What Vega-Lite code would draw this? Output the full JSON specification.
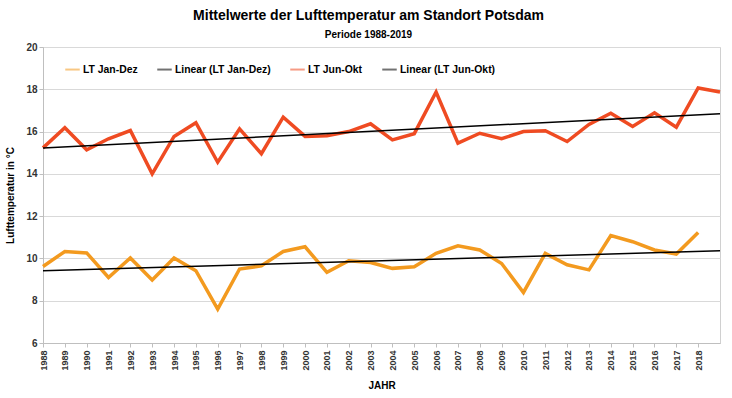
{
  "$schema": "https://vega.github.io/schema/vega-lite/v6.json",
  "width": 677,
  "height": 296,
  "autosize": {"type": "none"},
  "padding": {"left": 43, "top": 47, "right": 12, "bottom": 55},
  "background": "white",
  "title": {
    "text": "Mittelwerte der Lufttemperatur am Standort Potsdam",
    "subtitle": "Periode 1988-2019",
    "anchor": "middle",
    "dx": -13,
    "font": "Liberation Sans",
    "fontSize": 14,
    "fontWeight": "bold",
    "color": "#000000",
    "subtitleFont": "Liberation Sans",
    "subtitleFontSize": 10,
    "subtitleFontWeight": "bold",
    "subtitleColor": "#000000",
    "subtitlePadding": 7,
    "offset": 2
  },
  "config": {
    "view": {"stroke": "#d0d0d0", "strokeWidth": 1},
    "font": "Liberation Sans",
    "axis": {
      "labelFont": "Liberation Sans",
      "titleFont": "Liberation Sans",
      "labelFontWeight": "bold",
      "titleFontWeight": "bold",
      "labelColor": "#333333",
      "titleColor": "#000000",
      "domainColor": "#bfbfbf",
      "tickColor": "#bfbfbf",
      "gridColor": "#d9d9d9"
    }
  },
  "data": {
    "values": [
      {"Jahr": 1988, "Reihe": "LT Jan-Dez", "T": 9.62},
      {"Jahr": 1989, "Reihe": "LT Jan-Dez", "T": 10.33},
      {"Jahr": 1990, "Reihe": "LT Jan-Dez", "T": 10.26},
      {"Jahr": 1991, "Reihe": "LT Jan-Dez", "T": 9.10},
      {"Jahr": 1992, "Reihe": "LT Jan-Dez", "T": 10.02},
      {"Jahr": 1993, "Reihe": "LT Jan-Dez", "T": 8.98},
      {"Jahr": 1994, "Reihe": "LT Jan-Dez", "T": 10.02},
      {"Jahr": 1995, "Reihe": "LT Jan-Dez", "T": 9.42},
      {"Jahr": 1996, "Reihe": "LT Jan-Dez", "T": 7.60},
      {"Jahr": 1997, "Reihe": "LT Jan-Dez", "T": 9.50},
      {"Jahr": 1998, "Reihe": "LT Jan-Dez", "T": 9.65},
      {"Jahr": 1999, "Reihe": "LT Jan-Dez", "T": 10.33},
      {"Jahr": 2000, "Reihe": "LT Jan-Dez", "T": 10.55},
      {"Jahr": 2001, "Reihe": "LT Jan-Dez", "T": 9.34},
      {"Jahr": 2002, "Reihe": "LT Jan-Dez", "T": 9.89},
      {"Jahr": 2003, "Reihe": "LT Jan-Dez", "T": 9.81},
      {"Jahr": 2004, "Reihe": "LT Jan-Dez", "T": 9.53},
      {"Jahr": 2005, "Reihe": "LT Jan-Dez", "T": 9.61},
      {"Jahr": 2006, "Reihe": "LT Jan-Dez", "T": 10.24},
      {"Jahr": 2007, "Reihe": "LT Jan-Dez", "T": 10.60},
      {"Jahr": 2008, "Reihe": "LT Jan-Dez", "T": 10.40},
      {"Jahr": 2009, "Reihe": "LT Jan-Dez", "T": 9.76},
      {"Jahr": 2010, "Reihe": "LT Jan-Dez", "T": 8.39},
      {"Jahr": 2011, "Reihe": "LT Jan-Dez", "T": 10.24},
      {"Jahr": 2012, "Reihe": "LT Jan-Dez", "T": 9.70},
      {"Jahr": 2013, "Reihe": "LT Jan-Dez", "T": 9.46},
      {"Jahr": 2014, "Reihe": "LT Jan-Dez", "T": 11.08},
      {"Jahr": 2015, "Reihe": "LT Jan-Dez", "T": 10.79},
      {"Jahr": 2016, "Reihe": "LT Jan-Dez", "T": 10.40},
      {"Jahr": 2017, "Reihe": "LT Jan-Dez", "T": 10.21},
      {"Jahr": 2018, "Reihe": "LT Jan-Dez", "T": 11.23},
      {"Jahr": 1988, "Reihe": "LT Jun-Okt", "T": 15.23},
      {"Jahr": 1989, "Reihe": "LT Jun-Okt", "T": 16.18},
      {"Jahr": 1990, "Reihe": "LT Jun-Okt", "T": 15.14},
      {"Jahr": 1991, "Reihe": "LT Jun-Okt", "T": 15.66},
      {"Jahr": 1992, "Reihe": "LT Jun-Okt", "T": 16.05},
      {"Jahr": 1993, "Reihe": "LT Jun-Okt", "T": 14.00},
      {"Jahr": 1994, "Reihe": "LT Jun-Okt", "T": 15.77},
      {"Jahr": 1995, "Reihe": "LT Jun-Okt", "T": 16.42},
      {"Jahr": 1996, "Reihe": "LT Jun-Okt", "T": 14.55},
      {"Jahr": 1997, "Reihe": "LT Jun-Okt", "T": 16.13},
      {"Jahr": 1998, "Reihe": "LT Jun-Okt", "T": 14.95},
      {"Jahr": 1999, "Reihe": "LT Jun-Okt", "T": 16.68},
      {"Jahr": 2000, "Reihe": "LT Jun-Okt", "T": 15.77},
      {"Jahr": 2001, "Reihe": "LT Jun-Okt", "T": 15.80},
      {"Jahr": 2002, "Reihe": "LT Jun-Okt", "T": 16.00},
      {"Jahr": 2003, "Reihe": "LT Jun-Okt", "T": 16.37},
      {"Jahr": 2004, "Reihe": "LT Jun-Okt", "T": 15.61},
      {"Jahr": 2005, "Reihe": "LT Jun-Okt", "T": 15.90},
      {"Jahr": 2006, "Reihe": "LT Jun-Okt", "T": 17.87},
      {"Jahr": 2007, "Reihe": "LT Jun-Okt", "T": 15.45},
      {"Jahr": 2008, "Reihe": "LT Jun-Okt", "T": 15.92},
      {"Jahr": 2009, "Reihe": "LT Jun-Okt", "T": 15.66},
      {"Jahr": 2010, "Reihe": "LT Jun-Okt", "T": 16.00},
      {"Jahr": 2011, "Reihe": "LT Jun-Okt", "T": 16.04},
      {"Jahr": 2012, "Reihe": "LT Jun-Okt", "T": 15.53},
      {"Jahr": 2013, "Reihe": "LT Jun-Okt", "T": 16.34},
      {"Jahr": 2014, "Reihe": "LT Jun-Okt", "T": 16.87},
      {"Jahr": 2015, "Reihe": "LT Jun-Okt", "T": 16.24},
      {"Jahr": 2016, "Reihe": "LT Jun-Okt", "T": 16.89},
      {"Jahr": 2017, "Reihe": "LT Jun-Okt", "T": 16.21},
      {"Jahr": 2018, "Reihe": "LT Jun-Okt", "T": 18.06},
      {"Jahr": 2019, "Reihe": "LT Jun-Okt", "T": 17.87}
    ]
  },
  "encoding": {
    "x": {
      "field": "Jahr",
      "type": "quantitative",
      "scale": {"domain": [1988, 2019], "nice": false, "zero": false},
      "axis": {
        "title": "JAHR",
        "titleFontSize": 10,
        "titlePadding": 10,
        "values": [1988,1989,1990,1991,1992,1993,1994,1995,1996,1997,1998,1999,2000,2001,2002,2003,2004,2005,2006,2007,2008,2009,2010,2011,2012,2013,2014,2015,2016,2017,2018],
        "format": "d",
        "labelAngle": -90,
        "labelFontSize": 9,
        "labelPadding": 3,
        "tickSize": 4,
        "grid": false,
        "labelOverlap": false,
        "labelBound": false,
        "labelFlush": false
      }
    },
    "y": {
      "field": "T",
      "type": "quantitative",
      "scale": {"domain": [6, 20], "nice": false, "zero": false},
      "axis": {
        "title": "Lufttemperatur in °C",
        "titleFontSize": 10,
        "titlePadding": 10,
        "values": [6, 8, 10, 12, 14, 16, 18, 20],
        "labelFontSize": 10,
        "tickSize": 4,
        "grid": true
      }
    }
  },
  "layer": [
    {
      "mark": {"type": "line", "strokeWidth": 3.5, "strokeJoin": "miter"},
      "encoding": {
        "color": {
          "field": "Reihe",
          "type": "nominal",
          "scale": {
            "domain": ["LT Jan-Dez", "Linear (LT Jan-Dez)", "LT Jun-Okt", "Linear (LT Jun-Okt)"],
            "range": ["#F39A1F", "#000000", "#EF4B22", "#000000"]
          },
          "legend": {
            "title": null,
            "orient": "none",
            "legendX": 21,
            "legendY": 14,
            "direction": "horizontal",
            "symbolType": "stroke",
            "symbolSize": 210,
            "symbolStrokeWidth": 2,
            "symbolOpacity": 0.55,
            "labelFont": "Liberation Sans",
            "labelFontWeight": "bold",
            "labelFontSize": 10.4,
            "labelColor": "#000000",
            "labelOffset": 2,
            "columnPadding": 15
          }
        }
      }
    },
    {
      "transform": [
        {"filter": "datum.Reihe === 'LT Jan-Dez'"},
        {"regression": "T", "on": "Jahr", "extent": [1988, 2019]}
      ],
      "mark": {"type": "line", "strokeWidth": 1.5},
      "encoding": {"color": {"datum": "Linear (LT Jan-Dez)"}}
    },
    {
      "transform": [
        {"filter": "datum.Reihe === 'LT Jun-Okt'"},
        {"regression": "T", "on": "Jahr", "extent": [1988, 2019]}
      ],
      "mark": {"type": "line", "strokeWidth": 1.5},
      "encoding": {"color": {"datum": "Linear (LT Jun-Okt)"}}
    }
  ]
}
